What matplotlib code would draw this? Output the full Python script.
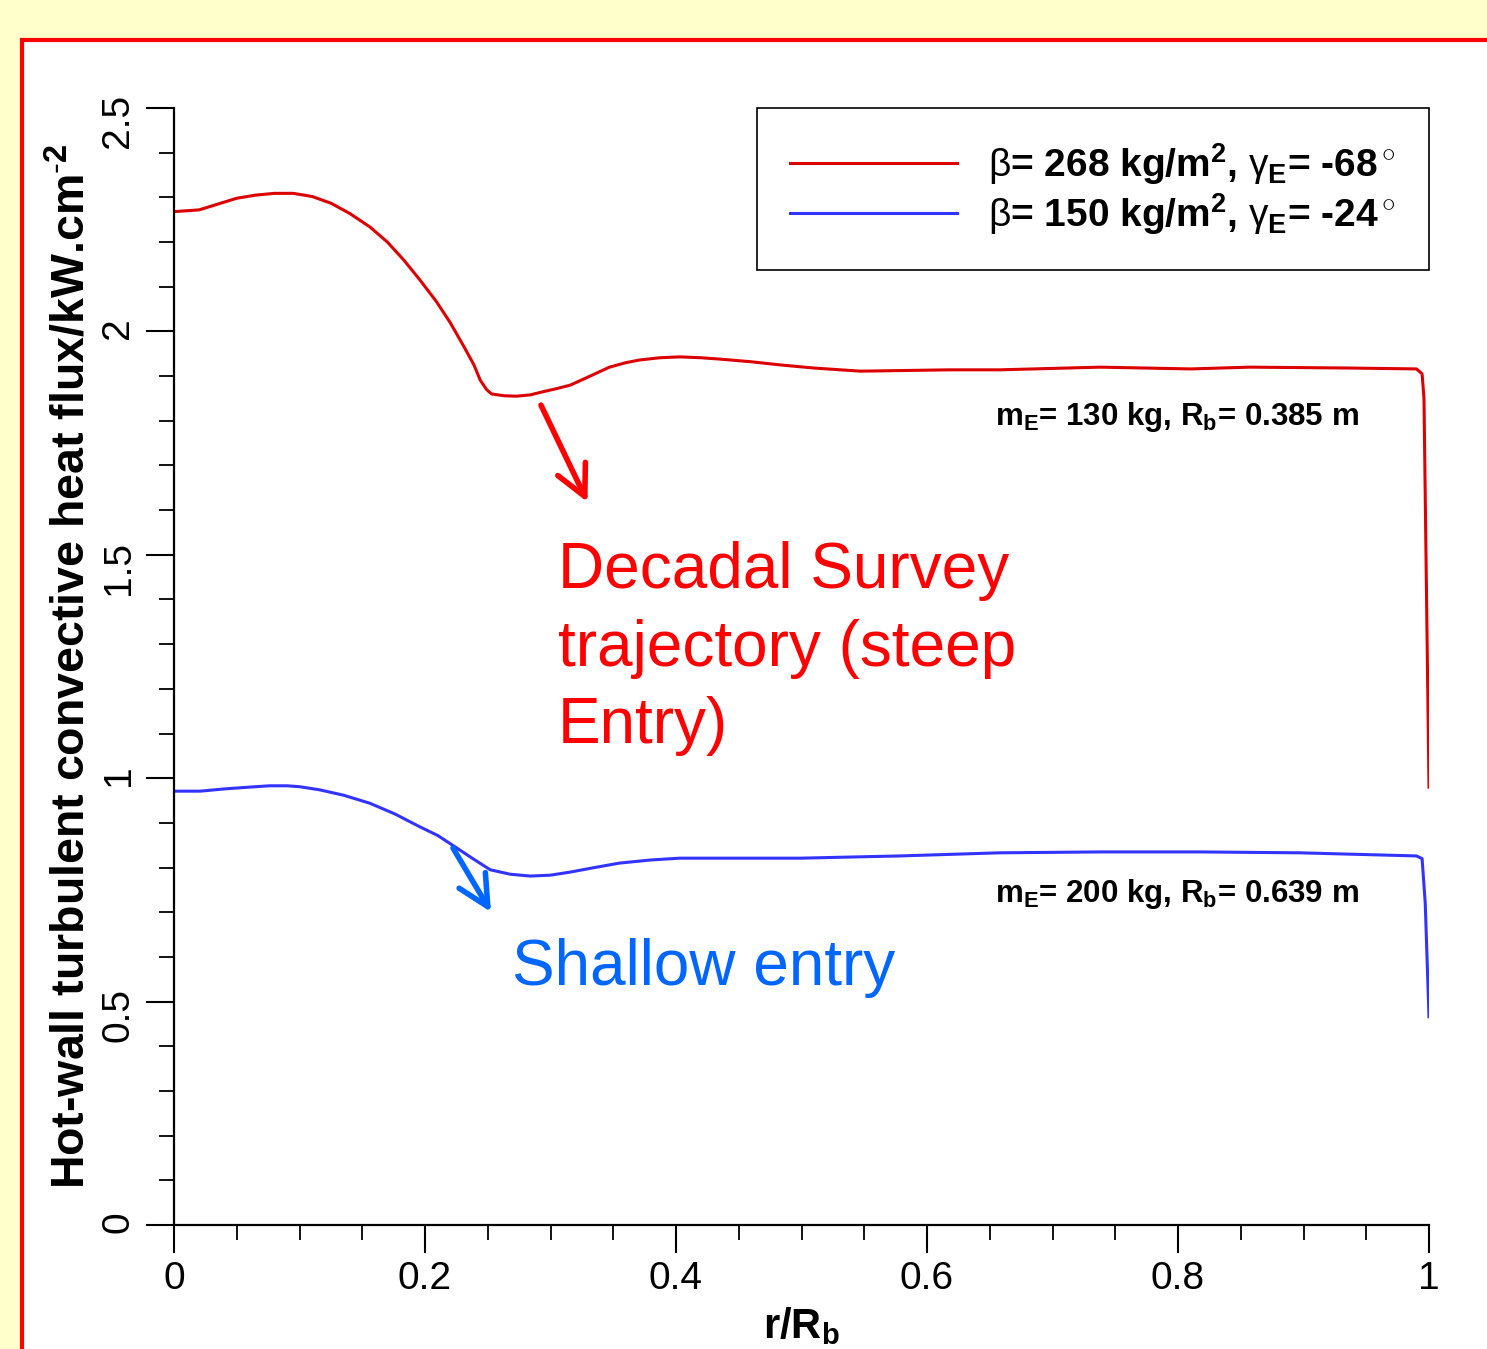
import matplotlib
matplotlib.use("Agg")
import matplotlib.pyplot as plt
from matplotlib.patches import Rectangle

# ---------------------------------------------------------------------------
# Data (r/Rb vs heat flux in kW/cm^2)
# ---------------------------------------------------------------------------
red_x = [0.0, 0.02, 0.035, 0.05, 0.065, 0.08, 0.095, 0.11, 0.125, 0.14, 0.156,
         0.17, 0.183, 0.196, 0.209, 0.22, 0.231, 0.239, 0.244, 0.249, 0.253,
         0.263, 0.273, 0.284, 0.294, 0.305, 0.316, 0.33, 0.347, 0.36, 0.371,
         0.387, 0.403, 0.42, 0.435, 0.46, 0.483, 0.51, 0.547, 0.618, 0.658,
         0.738, 0.81, 0.857, 0.937, 0.990, 0.9945, 0.996, 1.0]
red_y = [2.268, 2.272, 2.285, 2.298, 2.305, 2.309, 2.309, 2.302, 2.287, 2.264, 2.234,
         2.2, 2.16, 2.115, 2.067, 2.02, 1.966, 1.925, 1.891, 1.87, 1.86,
         1.856, 1.855, 1.858, 1.865, 1.872, 1.88, 1.898, 1.92, 1.93, 1.936,
         1.941, 1.943, 1.941, 1.938, 1.932, 1.925, 1.918, 1.911, 1.914, 1.914,
         1.92, 1.916, 1.92, 1.918, 1.916, 1.905, 1.85, 0.98]

blue_x = [0.0, 0.021, 0.04, 0.06, 0.076, 0.09, 0.1, 0.116, 0.135, 0.156, 0.176,
          0.196, 0.21, 0.222, 0.237, 0.252, 0.268, 0.284, 0.3, 0.316, 0.335,
          0.355, 0.38, 0.403, 0.499, 0.578, 0.658, 0.738, 0.817, 0.897, 0.990,
          0.9945, 0.997, 1.0]
blue_y = [0.971, 0.971, 0.976, 0.98, 0.983, 0.983, 0.981, 0.974, 0.962, 0.944, 0.92,
          0.891, 0.872, 0.85, 0.822, 0.795, 0.785, 0.781, 0.783, 0.79, 0.8,
          0.81, 0.817, 0.821, 0.821, 0.826, 0.833, 0.835, 0.835, 0.833, 0.826,
          0.82, 0.72, 0.466]

red_label = r'$\beta$= 268 kg/m$^\mathbf{2}$, $\gamma_\mathbf{E}$= -68$^\circ$'
blue_label = r'$\beta$= 150 kg/m$^\mathbf{2}$, $\gamma_\mathbf{E}$= -24$^\circ$'

# ---------------------------------------------------------------------------
# Style
# ---------------------------------------------------------------------------
plt.rcParams['font.family'] = ['Liberation Sans', 'DejaVu Sans']
plt.rcParams['mathtext.fontset'] = 'custom'
plt.rcParams['mathtext.rm'] = 'Liberation Sans'
plt.rcParams['mathtext.it'] = 'Liberation Sans'
plt.rcParams['mathtext.bf'] = 'Liberation Sans:bold'

fig = plt.figure(figsize=(14.87, 13.49), dpi=100, facecolor='#FFFFCC')
fig.add_artist(Rectangle((22 / 1487, -0.05), 1.1, 1 - 40 / 1349 + 0.05,
                         transform=fig.transFigure, facecolor='white',
                         edgecolor='#FF0000', linewidth=3, zorder=-1))

ax = fig.add_axes([174 / 1487, 1 - 1225 / 1349, (1429 - 174) / 1487, (1225 - 108) / 1349])
ax.set_facecolor('none')

ax.plot(red_x, red_y, color='#DD0000', lw=2.2, label=red_label)
ax.plot(blue_x, blue_y, color='#3333FF', lw=2.2, label=blue_label)

ax.set_xlim(0, 1)
ax.set_ylim(0, 2.5)
ax.set_xticks([0, 0.2, 0.4, 0.6, 0.8, 1.0])
ax.set_xticklabels(['0', '0.2', '0.4', '0.6', '0.8', '1'])
ax.set_xticks([i * 0.05 for i in range(21)], minor=True)
ax.set_yticks([0, 0.5, 1, 1.5, 2, 2.5])
ax.set_yticklabels(['0', '0.5', '1', '1.5', '2', '2.5'])
ax.set_yticks([i * 0.1 for i in range(26)], minor=True)

for s in ['top', 'right']:
    ax.spines[s].set_visible(False)
for s in ['left', 'bottom']:
    ax.spines[s].set_linewidth(1.6)

ax.tick_params(which='major', length=20, width=1.5, labelsize=28, pad=6)
ax.tick_params(which='minor', length=11, width=1.3)
ax.tick_params(axis='y', which='major', labelrotation=90, pad=7)

ax.set_xlabel(r'r/R$_\mathbf{b}$', fontsize=30, fontweight='bold', labelpad=6)
ax.set_ylabel(r'Hot-wall turbulent convective heat flux/kW.cm$^{\text{-}\mathbf{2}}$',
              fontsize=33.5, fontweight='bold', labelpad=4)

leg = ax.legend(loc='upper right', bbox_to_anchor=(1.0, 1.0), borderaxespad=0,
                prop={'size': 28, 'weight': 'bold'}, handlelength=4.3,
                handletextpad=0.8, borderpad=0.85, labelspacing=0.1,
                fancybox=False, framealpha=1)
leg.get_frame().set_edgecolor('black')
leg.get_frame().set_linewidth(1.2)

# annotations
ax.text(0.654, 1.79, r'm$_\mathbf{E}$= 130 kg, R$_\mathbf{b}$= 0.385 m',
        fontsize=22.5, fontweight='bold', va='baseline')
ax.text(0.654, 0.723, r'm$_\mathbf{E}$= 200 kg, R$_\mathbf{b}$= 0.639 m',
        fontsize=22.5, fontweight='bold', va='baseline')

ax.text(0.306, 1.079, 'Decadal Survey\ntrajectory (steep\nEntry)', color='#FF0000',
        fontsize=46, va='baseline', linespacing=1.37)
ax.text(0.269, 0.537, 'Shallow entry', color='#0066FF', fontsize=46, va='baseline')

ax.annotate('', xy=(0.3295, 1.618), xytext=(0.2924, 1.835),
            arrowprops=dict(arrowstyle='->,head_length=1.1,head_width=0.55',
                            color='#FF0000', lw=4, mutation_scale=20,
                            shrinkA=0, shrinkB=0))
ax.annotate('', xy=(0.2526, 0.7005), xytext=(0.2223, 0.8438),
            arrowprops=dict(arrowstyle='->,head_length=1.1,head_width=0.55',
                            color='#0066FF', lw=4, mutation_scale=20,
                            shrinkA=0, shrinkB=0))

fig.savefig('out.png', dpi=100, facecolor=fig.get_facecolor())
